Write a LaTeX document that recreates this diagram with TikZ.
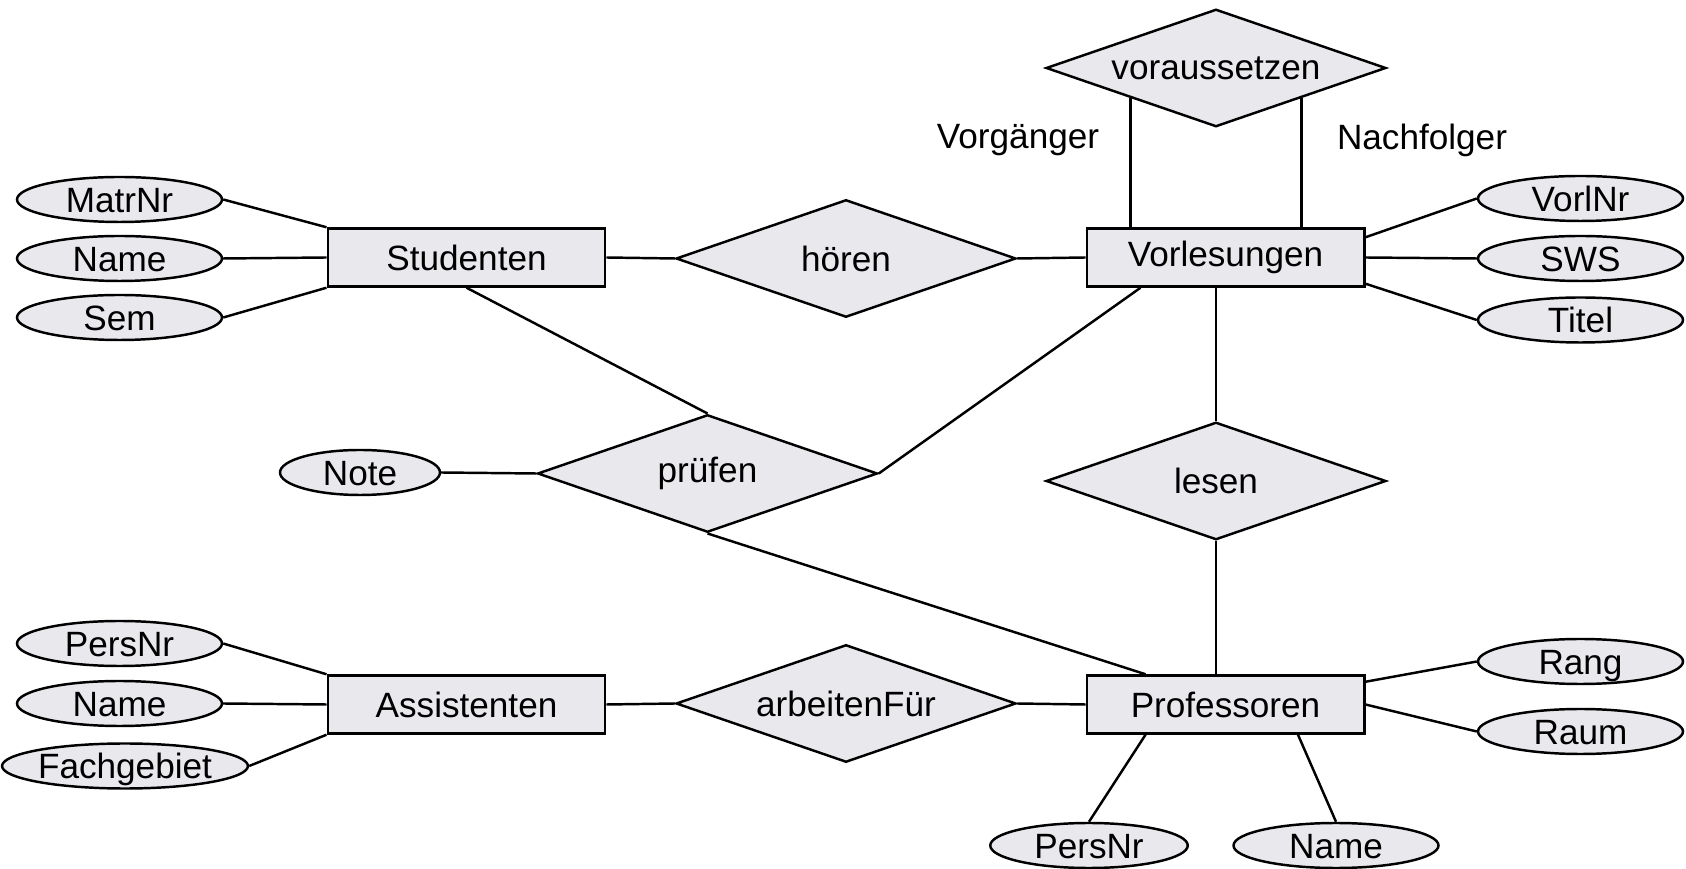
\documentclass[tikz,border=0pt]{standalone}
\usepackage{fontspec}
\setmainfont{Liberation Sans}
\usepackage{tikz}
\usetikzlibrary{positioning,shapes.geometric,calc}
\definecolor{erfill}{RGB}{233,232,237}

\begin{document}
\begin{tikzpicture}[
  font=\fontsize{20}{24}\selectfont,
  line width=1.4pt,
  entity/.style={draw, fill=erfill, minimum width=5.55cm, minimum height=1.16cm},
  relship/.style={draw, diamond, fill=erfill, aspect=2.9, minimum width=6.8cm, minimum height=2.35cm, inner sep=0pt},
  attr/.style={draw, ellipse, fill=erfill, minimum width=4.1cm, minimum height=0.9cm, inner xsep=0pt, inner ysep=0pt, text height=14.5pt, text depth=0pt}
]
\useasboundingbox (0,0) rectangle (33.72,17.38);

% entities
\node[entity] (studenten) at (9.33,12.23) {Studenten};
\node[entity] (vorlesungen) at (24.51,12.23) {Vorlesungen};
\node[entity] (assistenten) at (9.33,3.29) {Assistenten};
\node[entity] (professoren) at (24.51,3.29) {Professoren};

% relationships
\node[relship] (hoeren) at (16.92,12.21) {hören};
\node[relship] (voraussetzen) at (24.32,16.02) {voraussetzen};
\node[relship] (lesen) at (24.32,7.76) {lesen};
\node[relship] (pruefen) at (14.15,7.91) {prüfen};
\node[relship] (arbeitenfuer) at (16.92,3.31) {arbeitenFür};

% attributes
\node[attr] (matrnr) at (2.39,13.39) {MatrNr};
\node[attr] (stname) at (2.39,12.21) {Name};
\node[attr] (sem) at (2.39,11.03) {Sem};
\node[attr] (vorlnr) at (31.61,13.41) {VorlNr};
\node[attr] (sws) at (31.61,12.21) {SWS};
\node[attr] (titel) at (31.61,10.98) {Titel};
\node[attr, minimum width=3.2cm] (note) at (7.20,7.93) {Note};
\node[attr] (aspersnr) at (2.39,4.51) {PersNr};
\node[attr] (asname) at (2.39,3.31) {Name};
\node[attr] (fachgebiet) at (2.50,2.06) {Fachgebiet};
\node[attr] (rang) at (31.61,4.15) {Rang};
\node[attr] (raum) at (31.61,2.75) {Raum};
\node[attr, minimum width=3.95cm] (prpersnr) at (21.78,0.47) {PersNr};
\node[attr] (prname) at (26.72,0.47) {Name};

% roles
\node (vorgaenger) at (20.36,14.58) {Vorgänger};
\node (nachfolger) at (28.44,14.58) {Nachfolger};

% Studenten
\draw (matrnr.east) -- (studenten.north west);
\draw (stname.east) -- (studenten.west);
\draw (sem.east) -- (studenten.south west);
\draw (studenten.east) -- (hoeren.west);
\draw (hoeren.east) -- (vorlesungen.west);
\draw (studenten.south) -- (pruefen.north);

% Vorlesungen
\draw (voraussetzen.south west) -- (voraussetzen.south west |- vorlesungen.north);
\draw (voraussetzen.south east) -- (voraussetzen.south east |- vorlesungen.north);
\draw ([yshift=-0.2cm]vorlesungen.north east) -- (vorlnr.west);
\draw (vorlesungen.east) -- (sws.west);
\draw ([yshift=0.08cm]vorlesungen.south east) -- (titel.west);
\draw (lesen.north) -- (lesen.north |- vorlesungen.south);

% pruefen
\draw (note.east) -- (pruefen.west);
\draw (pruefen.east) -- ([xshift=1.1cm]vorlesungen.south west);
\draw (pruefen.south) -- ([xshift=1.2cm]professoren.north west);

% Professoren
\draw (lesen.south) -- (lesen.south |- professoren.north);
\draw ([yshift=-0.15cm]professoren.north east) -- (rang.west);
\draw (professoren.east) -- (raum.west);
\draw ([xshift=1.2cm]professoren.south west) -- (prpersnr.north);
\draw ([xshift=-1.35cm]professoren.south east) -- (prname.north);

% Assistenten
\draw (aspersnr.east) -- (assistenten.north west);
\draw (asname.east) -- (assistenten.west);
\draw (fachgebiet.east) -- (assistenten.south west);
\draw (assistenten.east) -- (arbeitenfuer.west);
\draw (arbeitenfuer.east) -- (professoren.west);

\end{tikzpicture}
\end{document}
